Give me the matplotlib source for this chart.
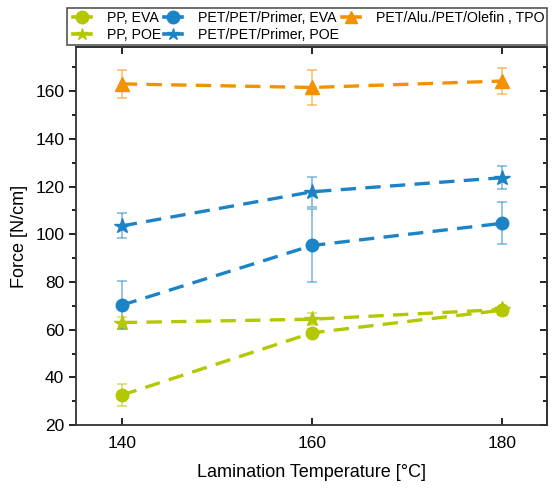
import matplotlib
matplotlib.use("Agg")
from matplotlib import pyplot as plt
from matplotlib.colors import to_rgba
from matplotlib.lines import Line2D
from matplotlib.legend_handler import HandlerLine2D
from matplotlib.ticker import MultipleLocator

plt.rcParams['font.family'] = ['Liberation Sans', 'DejaVu Sans']

temps = [140, 160, 180]

pp_eva = [32.6, 58.7, 68.2]
pp_eva_err = [4.5, 1.5, 1.0]
pp_poe = [63.0, 64.4, 68.5]
pp_poe_err = [2.5, 2.5, 1.0]
pet_eva = [70.3, 95.3, 104.6]
pet_eva_err = [10.0, 15.3, 8.8]
pet_poe = [103.5, 117.8, 123.7]
pet_poe_err = [5.2, 6.2, 4.9]
alu_tpo = [163.0, 161.5, 164.2]
alu_tpo_err = [6.0, 7.4, 5.3]

green = '#b3c800'
blue = '#1c84c6'
orange = '#f39200'


# legend handle: line first, marker on the right end (Origin style)
class RightMarker(HandlerLine2D):
    def get_xdata(self, legend, xdescent, ydescent, width, height, fontsize):
        xdata = [-xdescent + 0.2 * fontsize, -xdescent + width]
        return xdata, [-xdescent + width]


f = plt.figure(figsize=(5.52, 4.91), dpi=100)
ax1 = f.add_axes([0.138, 0.134, 0.853, 0.770])

series = [
    (pp_eva, pp_eva_err, green, 'o', 9, 'PP, EVA'),
    (pp_poe, pp_poe_err, green, '*', 11.5, 'PP, POE'),
    (pet_eva, pet_eva_err, blue, 'o', 9, 'PET/PET/Primer, EVA'),
    (pet_poe, pet_poe_err, blue, '*', 11.5, 'PET/PET/Primer, POE'),
    (alu_tpo, alu_tpo_err, orange, '^', 10, 'PET/Alu./PET/Olefin , TPO'),
]

handles = []
for vals, errs, c, m, ms, lab in series:
    cont = ax1.errorbar(temps, vals, yerr=errs, color=c, marker=m, markersize=ms,
                        linestyle=(0, (4.6, 2.8)), linewidth=2.4,
                        ecolor=to_rgba(c, 0.6), elinewidth=1.1, capsize=3.5,
                        capthick=1.1, label=lab)
    handles.append(cont[0])

ax1.set_xlim(135.2, 184.7)
ax1.set_ylim(20, 178.4)
ax1.xaxis.set_major_locator(MultipleLocator(20))
ax1.yaxis.set_major_locator(MultipleLocator(20))
ax1.yaxis.set_minor_locator(MultipleLocator(10))

ax1.tick_params(axis='y', which='both', direction='out', right=False, labelsize=12.5)
ax1.tick_params(axis='y', which='major', length=5, width=1.2)
ax1.tick_params(axis='y', which='minor', length=3, width=1.2)
ax1.tick_params(axis='x', direction='in', top=False, length=5, width=1.2,
                labelsize=12.5, pad=8)

# mirrored ticks pointing inward on top and right
sec_y = ax1.secondary_yaxis('right')
sec_y.yaxis.set_major_locator(MultipleLocator(20))
sec_y.yaxis.set_minor_locator(MultipleLocator(10))
sec_y.tick_params(which='both', direction='in', labelright=False, width=1.2)
sec_y.tick_params(which='major', length=5)
sec_y.tick_params(which='minor', length=3)
sec_x = ax1.secondary_xaxis('top')
sec_x.xaxis.set_major_locator(MultipleLocator(20))
sec_x.tick_params(direction='in', labeltop=False, length=5, width=1.2)
for sp in list(ax1.spines.values()) + [sec_y.spines['right'], sec_x.spines['top']]:
    sp.set_linewidth(1.3)
    sp.set_color('#333333')

ax1.set_ylabel('Force [N/cm]', fontsize=13, labelpad=5)
ax1.set_xlabel('Lamination Temperature [°C]', fontsize=13, labelpad=9)

leg = f.legend(handles, [s[5] for s in series],
               loc='upper left', bbox_to_anchor=(0.122, 0.984), ncol=3,
               fontsize=10.2, handlelength=1.45, handletextpad=1.15,
               columnspacing=0.0, labelspacing=0.25, borderpad=0.2,
               borderaxespad=0, fancybox=False, framealpha=1,
               handler_map={Line2D: RightMarker()})
leg.get_frame().set_edgecolor('#555555')
leg.get_frame().set_linewidth(1.2)
for h in leg.legend_handles:
    h.set_linestyle('-')
    h.set_linewidth(2.6)
    h.set_markersize(9)

f.savefig('out.png', dpi=100)
